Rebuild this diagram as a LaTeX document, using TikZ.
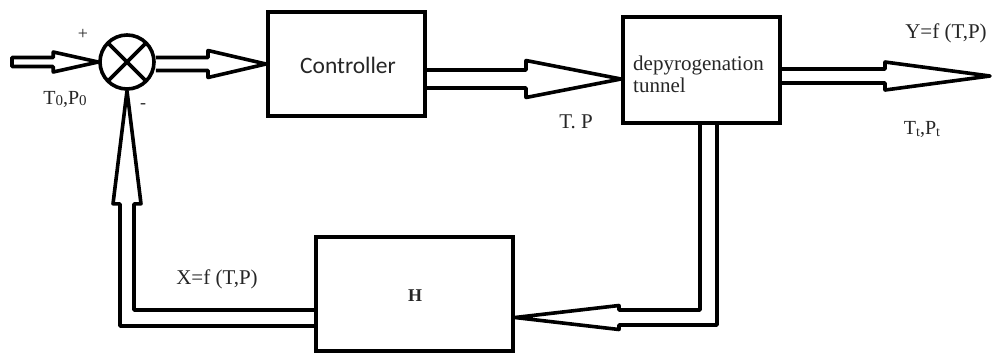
\documentclass[tikz,border=0pt]{standalone}
\usepackage{fontspec}
\setmainfont{Liberation Serif}
\newfontfamily\calfont{Carlito}
\usetikzlibrary{calc}

% Hollow right-pointing arrow: [extra path end]{start}{tip}{shaft half width}{head length}{head half width}
\newcommand\rarrow[6][]{%
  \draw[hollow] let \p1=#2, \p2=#3 in
    (\x1,\y2+#4) -- (\x2-#5,\y2+#4) -- (\x2-#5,\y2+#6) -- (\p2)
    -- (\x2-#5,\y2-#6) -- (\x2-#5,\y2-#4) -- (\x1,\y2-#4) #1;}

\begin{document}
\begin{tikzpicture}[x=1pt,y=-1pt,
  block/.style={draw, line width=4pt, fill=white, inner sep=0pt},
  hollow/.style={draw, line width=3.6pt, line join=round},
  lab/.style={inner sep=0pt, text=black!85, font=\fontsize{21}{24}\selectfont},
  sml/.style={inner sep=0pt, text=black!85, font=\fontsize{18}{20}\selectfont}]
\useasboundingbox (0,0) rectangle (998,354);

% blocks
\node[draw, circle, line width=3.6pt, minimum size=54pt, inner sep=0pt, fill=white] (sum) at (127,62) {};
\draw[line width=3.6pt] ($(sum.center)+(45:26)$) -- ($(sum.center)+(225:26)$)
                        ($(sum.center)+(135:26)$) -- ($(sum.center)+(-45:26)$);
\node[block, minimum width=157pt, minimum height=104pt] (ctrl) at (346.5,64) {};
\node[block, minimum width=157pt, minimum height=106pt] (tun) at (701.5,70) {};
\node[block, minimum width=197pt, minimum height=114pt] (H) at (414.5,294) {};

% block texts
\node[inner sep=0pt, text=black!85, font=\calfont\fontsize{23.5}{26}\selectfont] (ctrltxt) at (348,65) {Controller};
\node[inner sep=0pt, text=black!85, align=left, font=\fontsize{21}{22}\selectfont] (tuntxt) at ($(tun.center)+(-3,4)$) {depyrogenation\\tunnel};
\node[inner sep=0pt, text=black!85, font=\bfseries\fontsize{18}{20}\selectfont] (htxt) at (415,296) {H};

% forward path
\coordinate (src) at (12,62);
\coordinate (tunin) at ($(tun.west)+(0,9)$);
\coordinate (out) at (990,76);
\rarrow[-- cycle]{(src)}{(sum.west)}{4.5pt}{45pt}{10pt}
\rarrow{(sum.east)}{(ctrl.west)}{6.5pt}{58pt}{13.5pt}
\rarrow{(ctrl.east)}{(tunin)}{9pt}{95pt}{18.5pt}
\rarrow{(tun.east)}{(out)}{7pt}{105pt}{14pt}

% feedback path: tunnel -> H
\coordinate (fbA) at ($(tun.south)+(7,0)$);
\coordinate (fbB) at (708.5,317.5);
\coordinate (Hin) at ($(H.east)+(0,23.5)$);
\draw[hollow] let \p1=(fbA), \p2=(fbB), \p3=(Hin) in
  (\x1-8.5pt,\y1) -- (\x1-8.5pt,\y2+7.5pt) -- (\x3+104pt,\y2+7.5pt)
  -- (\x3+104pt,\y3+12pt) -- (\p3) -- (\x3+104pt,\y3-12pt)
  -- (\x3+104pt,\y2-7.5pt) -- (\x1+8.5pt,\y2-7.5pt) -- (\x1+8.5pt,\y1);

% feedback path: H -> summing junction
\coordinate (Hout) at ($(H.west)+(0,24)$);
\coordinate (fbC) at (127,318);
\draw[hollow] let \p1=(Hout), \p2=(fbC), \p3=(sum.south) in
  (\x1,\y2+8pt) -- (\x2+7pt,\y2+8pt) -- (\x2+7pt,\y3-113pt)
  -- (\x3+14pt,\y3-113pt) -- (\p3) -- (\x3-14pt,\y3-113pt)
  -- (\x2-7pt,\y3-113pt) -- (\x2-7pt,\y2-8pt) -- (\x1,\y2-8pt);

% signal labels
\node[sml] (plus) at (83,34) {+};
\node[sml] (minus) at (143,106) {-};
\node[lab, font=\fontsize{20}{22}\selectfont] (t0) at (65,99)
  {T\raisebox{-1pt}{\fontsize{15}{15}\selectfont 0},P\raisebox{-1pt}{\fontsize{15}{15}\selectfont 0}};
\node[lab] (tp) at (576,122) {T. P};
\node[lab] (yf) at (946,33) {Y=f (T,P)};
\node[lab, font=\fontsize{20}{22}\selectfont] (tt) at (922,129)
  {T\raisebox{-2pt}{\fontsize{14}{14}\selectfont t},P\raisebox{-2pt}{\fontsize{14}{14}\selectfont t}};
\node[lab] (xf) at (217,279) {X=f (T,P)};
\end{tikzpicture}
\end{document}
